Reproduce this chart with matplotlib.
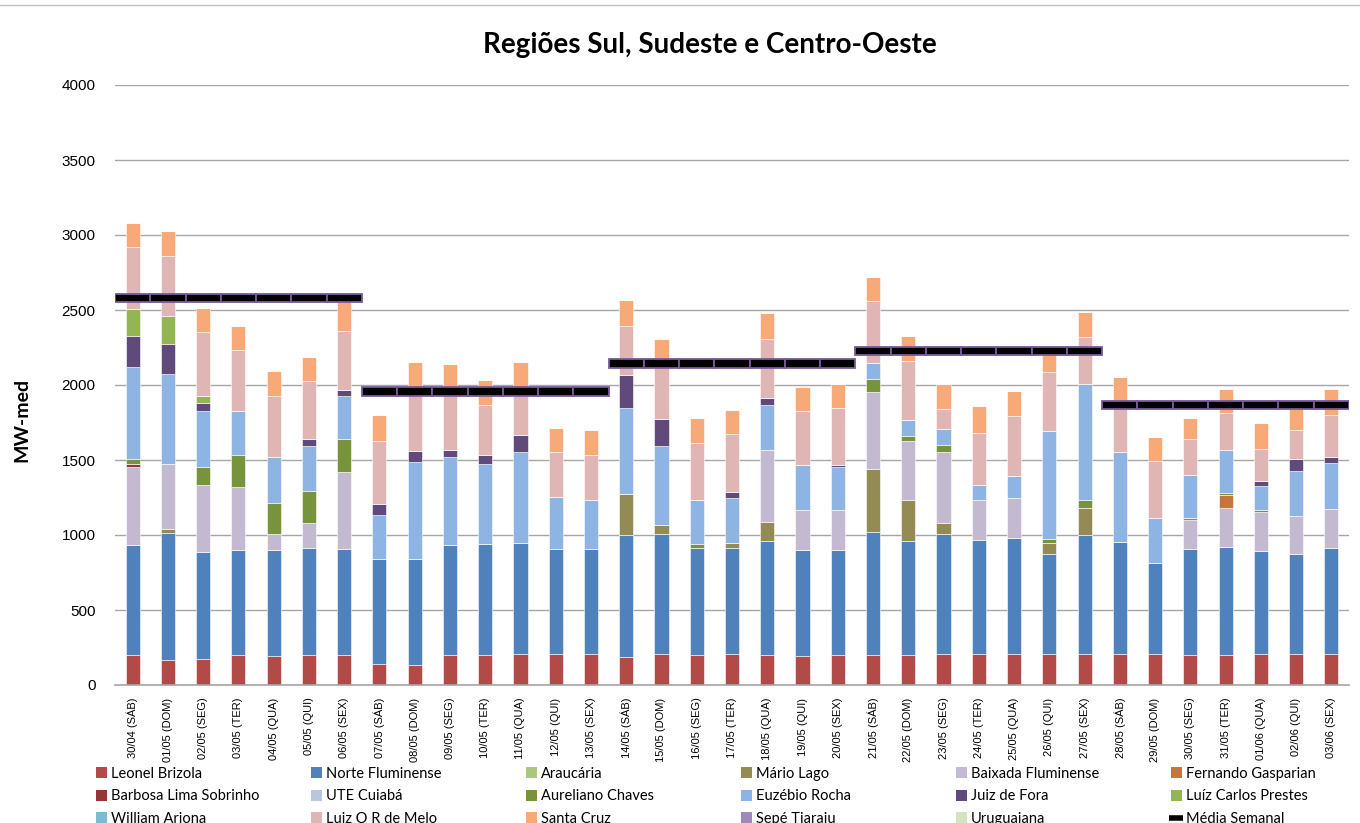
import matplotlib
matplotlib.use('Agg')
import matplotlib.pyplot as plt
import numpy as np
from matplotlib.patches import Patch
from matplotlib.lines import Line2D

dias = ['30/04 (SÁB)', '01/05 (DOM)', '02/05 (SEG)', '03/05 (TER)', '04/05 (QUA)', '05/05 (QUI)', '06/05 (SEX)',
        '07/05 (SÁB)', '08/05 (DOM)', '09/05 (SEG)', '10/05 (TER)', '11/05 (QUA)', '12/05 (QUI)', '13/05 (SEX)',
        '14/05 (SÁB)', '15/05 (DOM)', '16/05 (SEG)', '17/05 (TER)', '18/05 (QUA)', '19/05 (QUI)', '20/05 (SEX)',
        '21/05 (SÁB)', '22/05 (DOM)', '23/05 (SEG)', '24/05 (TER)', '25/05 (QUA)', '26/05 (QUI)', '27/05 (SEX)',
        '28/05 (SÁB)', '29/05 (DOM)', '30/05 (SEG)', '31/05 (TER)', '01/06 (QUA)', '02/06 (QUI)', '03/06 (SEX)']

leonel_brizola = [200, 164, 173, 200, 191, 200, 200, 140, 133, 200, 200, 209, 209, 209,
                  184, 209, 200, 209, 200, 193, 200, 198, 198, 207, 207, 207, 207, 207,
                  207, 207, 200, 200, 207, 207, 207]
norte_fluminense = [733, 847, 716, 698, 707, 711, 704, 698, 705, 731, 738, 738, 695, 695,
                    816, 800, 713, 704, 760, 705, 698, 820, 762, 802, 757, 775, 664, 791,
                    749, 604, 704, 722, 689, 664, 704]
araucaria = [0] * 35
mario_lago = [0, 31, 0, 0, 0, 0, 0, 0, 0, 0, 0, 0, 0, 0,
              276, 60, 0, 36, 124, 0, 0, 420, 271, 73, 0, 0, 73, 182,
              0, 0, 0, 0, 0, 0, 0]
baixada_fluminense = [522, 429, 447, 420, 111, 167, 518, 0, 0, 0, 0, 0, 0, 0,
                      0, 0, 0, 0, 483, 266, 266, 518, 396, 469, 269, 267, 0, 0,
                      0, 0, 198, 260, 260, 258, 265]
fernando_gasparian = [0] * 30 + [9, 85, 0, 0, 0]
barbosa_lima = [18] + [0] * 34
ute_cuiaba = [0] * 35
aureliano_chaves = [31, 0, 120, 213, 204, 213, 216, 0, 0, 0, 0, 0, 0, 0,
                    0, 0, 25, 0, 0, 0, 0, 84, 35, 51, 0, 0, 29, 51,
                    0, 0, 0, 15, 8, 0, 0]
euzebio_rocha = [614, 605, 371, 296, 305, 302, 291, 293, 646, 587, 533, 604, 347, 329,
                 568, 524, 293, 300, 302, 303, 292, 107, 102, 102, 103, 147, 723, 773,
                 595, 300, 291, 285, 163, 300, 306]
juiz_de_fora = [206, 195, 51, 0, 0, 49, 40, 73, 74, 51, 62, 113, 0, 0,
                220, 183, 0, 35, 42, 0, 8, 0, 0, 0, 0, 0, 0, 0,
                0, 0, 0, 0, 35, 75, 40]
luiz_carlos_prestes = [180, 191, 51] + [0] * 32
william_arjona = [0] * 35
luiz_or_melo = [414, 398, 424, 404, 411, 382, 391, 425, 426, 415, 336, 320, 302, 300,
                329, 353, 382, 389, 396, 360, 380, 413, 396, 138, 344, 397, 391, 314,
                316, 380, 236, 244, 214, 194, 278]
santa_cruz = [164, 169, 163, 162, 162, 163, 249, 173, 167, 154, 164, 167, 163, 165,
              174, 178, 169, 163, 173, 162, 163, 162, 164, 165, 182, 169, 135, 171,
              189, 160, 144, 160, 173, 160, 171]
sepe_tiaraju = [0] * 35
uruguaiana = [0] * 35
media_semanal = [2580] * 7 + [1956] * 7 + [2144] * 7 + [2229] * 7 + [1867] * 7

series = [
    ('Leonel Brizola', leonel_brizola, '#B24A47'),
    ('Norte Fluminense', norte_fluminense, '#4F81BD'),
    ('Araucária', araucaria, '#ABC77F'),
    ('Mário Lago', mario_lago, '#948A54'),
    ('Baixada Fluminense', baixada_fluminense, '#C3B9D0'),
    ('Fernando Gasparian', fernando_gasparian, '#C5763A'),
    ('Barbosa Lima Sobrinho', barbosa_lima, '#943634'),
    ('UTE Cuiabá', ute_cuiaba, '#B9C6E0'),
    ('Aureliano Chaves', aureliano_chaves, '#77933C'),
    ('Euzébio Rocha', euzebio_rocha, '#8EB4E3'),
    ('Juiz de Fora', juiz_de_fora, '#604A7B'),
    ('Luíz Carlos Prestes', luiz_carlos_prestes, '#93B553'),
    ('William Arjona', william_arjona, '#7CBCD2'),
    ('Luiz O R de Melo', luiz_or_melo, '#E0B6B5'),
    ('Santa Cruz', santa_cruz, '#F8A978'),
    ('Sepé Tiaraju', sepe_tiaraju, '#9E88BC'),
    ('Uruguaiana', uruguaiana, '#D5E3C0'),
]

plt.rcParams['font.family'] = ['Liberation Sans', 'DejaVu Sans']

fig = plt.figure(figsize=(13.6, 8.23), dpi=100)
ax = fig.add_axes([115 / 1360, 1 - 685 / 823, 1234 / 1360, 600 / 823])

x = np.arange(len(dias))
bottom = np.zeros(len(dias))
handles = []
for nome, vals, cor in series:
    v = np.array(vals, dtype=float)
    ax.bar(x, v, 0.4, bottom=bottom, color=cor, edgecolor='white', linewidth=0.4, zorder=2)
    bottom += v
    handles.append(Patch(facecolor=cor, label=nome))

# media semanal: faixa preta com borda roxa em cada dia
esp = 55
ax.bar(x, esp, 1.0, bottom=np.array(media_semanal) - esp / 2, color='black',
       edgecolor='#7A5A9A', linewidth=1.3, zorder=4)
handles.append(Line2D([], [], ls='none', marker='_', markersize=10, mew=4,
                      color='black', label='Média Semanal'))

ax.set_xlim(-0.5, len(dias) - 0.5)
ax.set_ylim(0, 4000)
ax.set_yticks(np.arange(0, 4001, 500))
ax.yaxis.grid(True, color='#A6A6A6', linewidth=1, zorder=0)
ax.set_axisbelow(True)
for s in ['top', 'right', 'left']:
    ax.spines[s].set_visible(False)
ax.spines['bottom'].set_color('#A6A6A6')
ax.spines['bottom'].set_linewidth(1.2)
ax.tick_params(axis='y', length=0, pad=14, labelsize=11)
ax.set_xticks(x)
ax.set_xticklabels(dias, rotation=90, fontsize=8)
ax.tick_params(axis='x', length=0, pad=9)

fig.text(710 / 1360, 1 - 45 / 823, 'Regiões Sul, Sudeste e Centro-Oeste', ha='center', va='center',
         fontsize=20, fontweight='bold', family=['Lato', 'DejaVu Sans'])
fig.text(22 / 1360, 1 - 420 / 823, 'MW-med', ha='center', va='center', rotation=90,
         fontsize=14, fontweight='bold', family=['Lato', 'DejaVu Sans'])

# legenda em 6 colunas, ordem por linha
col_x = [90, 305, 520, 735, 950, 1165]
for j, cx in enumerate(col_x):
    hs = [handles[j], handles[j + 6], handles[j + 12]]
    fig.legend(handles=hs, loc='upper left', bbox_to_anchor=(cx / 1360, 1 - 761 / 823),
               frameon=False, ncol=1, handlelength=0.75, handleheight=0.75, handletextpad=0.3,
               labelspacing=0.58, borderaxespad=0, prop={'family': ['Lato', 'DejaVu Sans'], 'size': 10.5})

fig.add_artist(Line2D([0, 1], [1 - 5 / 823, 1 - 5 / 823], color='#BFBFBF', lw=1))

fig.savefig('out.png', dpi=100)
